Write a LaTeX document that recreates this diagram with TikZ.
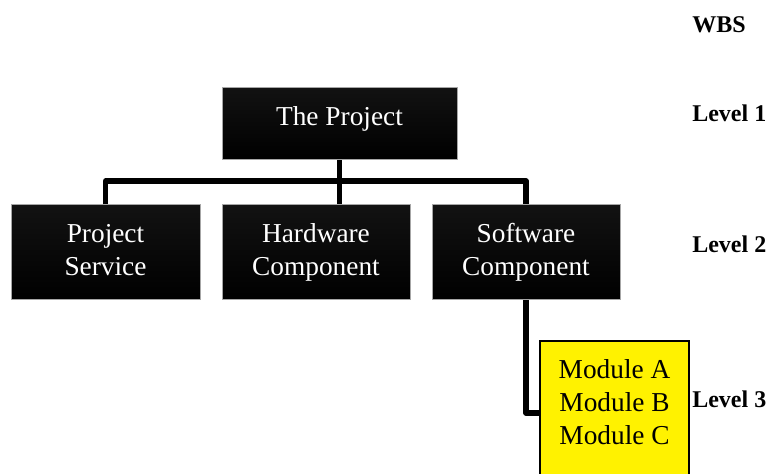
\documentclass[tikz,border=0pt]{standalone}
\usepackage{fontspec}
\setmainfont{Liberation Serif}
\begin{document}
\begin{tikzpicture}[x=0.75pt,y=-0.75pt,
    wbsbox/.style={draw=gray!70, line width=0.75pt, top color=black!93, bottom color=black,
      text=white, align=center, inner sep=0pt, font=\fontsize{20.5}{24.75}\selectfont},
    modbox/.style={draw=black, line width=1.2pt, fill=yellow, align=center, inner sep=0pt,
      font=\fontsize{20.5}{24.75}\selectfont},
    link/.style={line width=4pt, line join=round},
    levellabel/.style={anchor=base west, inner sep=0pt, font=\bfseries\fontsize{18}{22}\selectfont}]
    \useasboundingbox (0,0) rectangle (769,474);
    % boxes
    \node[wbsbox, minimum width=176.25pt, minimum height=54pt, text depth=11.8pt] (top) at (339.5,124) {The Project};
    \node[wbsbox, minimum width=141.75pt, minimum height=71.25pt, text depth=4.5pt] (ps) at (105.5,252.5) {Project\\Service};
    \node[wbsbox, minimum width=141pt, minimum height=71.25pt, text depth=4.5pt] (hw) at (316,252.5) {Hardware\\Component};
    \node[wbsbox, minimum width=141pt, minimum height=71.25pt, text depth=4.5pt] (sw) at (526,252.5) {Software\\Component};
    \node[modbox, minimum width=111.75pt, minimum height=108pt, text depth=16.5pt] (mod) at (614.5,413) {Module A\\Module B\\Module C};
    % connectors
    \coordinate (bus) at (339.5,181);
    \draw[link] (top.south) -- (top.south |- hw.north);
    \draw[link] (ps.north) |- (bus) -| (sw.north);
    \draw[link] (sw.south) |- (mod.west);
    % levels
    \node[levellabel] (wbs) at (692,33) {WBS};
    \node[levellabel] (lv1) at (692,122) {Level 1};
    \node[levellabel] (lv2) at (692,253) {Level 2};
    \node[levellabel] (lv3) at (692,408) {Level 3};
\end{tikzpicture}
\end{document}
